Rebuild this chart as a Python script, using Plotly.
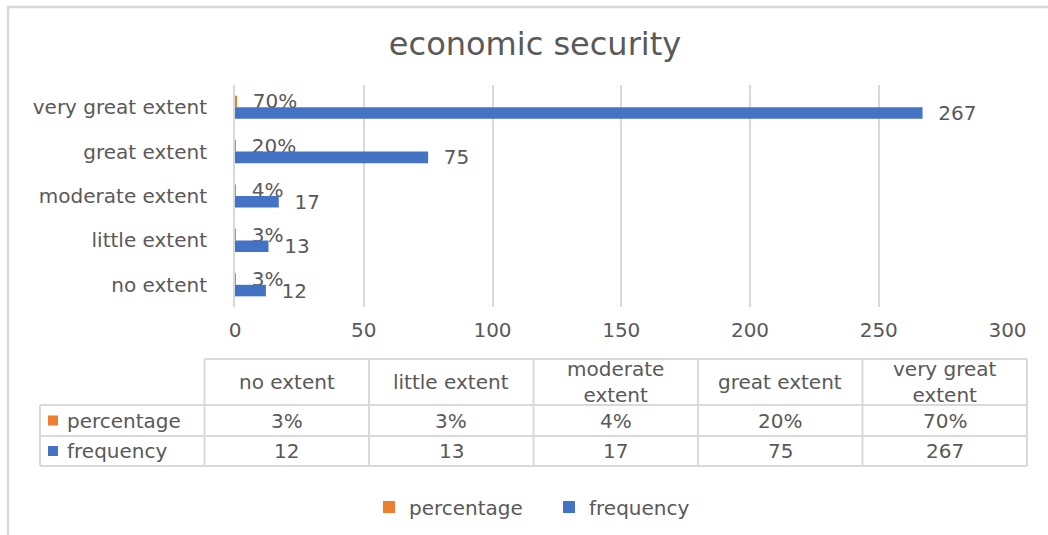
import plotly.graph_objects as go

# ---- data ----
categories = ["no extent", "little extent", "moderate extent", "great extent", "very great extent"]
table_headers = ["no extent", "little extent", "moderate<br>extent", "great extent", "very great<br>extent"]
percentage = [0.03, 0.03, 0.04, 0.20, 0.70]
frequency = [12, 13, 17, 75, 267]
series_names = ["percentage", "frequency"]
x_ticks = [0, 50, 100, 150, 200, 250, 300]

# ---- style ----
W, H = 1048, 535
FONT = "DejaVu Sans"
TXT = "#595959"
GRID = "#D9D9D9"
ORANGE = "#ED7D31"
BLUE = "#4472C4"
colors = [ORANGE, BLUE]
FS = 20


def px(x):
    return x / W


def py(y):
    return 1 - y / H


fig = go.Figure()
pad = "\u00a0\u00a0"
fig.add_trace(go.Bar(
    y=categories, x=percentage, orientation="h", name=series_names[0],
    marker=dict(color=ORANGE, line=dict(width=0)),
    texttemplate=pad + "%{x:.0%}", textposition="outside", constraintext="none",
    cliponaxis=False, textfont=dict(family=FONT, size=FS, color=TXT),
))
fig.add_trace(go.Bar(
    y=categories, x=frequency, orientation="h", name=series_names[1],
    marker=dict(color=BLUE, line=dict(width=0)),
    texttemplate=pad + "%{x}", textposition="outside", constraintext="none",
    cliponaxis=False, textfont=dict(family=FONT, size=FS, color=TXT),
))

# ---- data table (shapes + text) ----
tx0 = 40
tcol = (1027 - 40) / 6
row_y = [359, 405, 436, 466]
shapes = []
annotations = []
line_style = dict(color=GRID, width=2)
# horizontal lines
shapes.append(dict(type="line", xref="paper", yref="paper", x0=px(tx0 + tcol), x1=px(tx0 + 6 * tcol),
                   y0=py(row_y[0]), y1=py(row_y[0]), line=line_style))
for yy in row_y[1:]:
    shapes.append(dict(type="line", xref="paper", yref="paper", x0=px(tx0), x1=px(tx0 + 6 * tcol),
                       y0=py(yy), y1=py(yy), line=line_style))
# vertical lines
shapes.append(dict(type="line", xref="paper", yref="paper", x0=px(tx0), x1=px(tx0),
                   y0=py(row_y[1]), y1=py(row_y[3]), line=line_style))
for i in range(1, 7):
    xx = tx0 + i * tcol
    shapes.append(dict(type="line", xref="paper", yref="paper", x0=px(xx), x1=px(xx),
                       y0=py(row_y[0]), y1=py(row_y[3]), line=line_style))
# header texts
for i, h in enumerate(table_headers):
    cx = tx0 + (i + 1.5) * tcol
    annotations.append(dict(text=h, x=px(cx), y=py((row_y[0] + row_y[1]) / 2), xref="paper", yref="paper",
                            showarrow=False, xanchor="center", yanchor="middle",
                            font=dict(family=FONT, size=FS, color=TXT)))
# rows
row_values = [[f"{round(p * 100)}%" for p in percentage], [str(f) for f in frequency]]
for r, name in enumerate(series_names):
    cy = (row_y[r + 1] + row_y[r + 2]) / 2
    shapes.append(dict(type="rect", xref="paper", yref="paper", x0=px(48), x1=px(58),
                       y0=py(cy + 5), y1=py(cy - 5), fillcolor=colors[r], line=dict(width=0)))
    annotations.append(dict(text=name, x=px(65), y=py(cy), xref="paper", yref="paper",
                            showarrow=False, xanchor="left", yanchor="middle",
                            font=dict(family=FONT, size=FS, color=TXT)))
    for i, v in enumerate(row_values[r]):
        cx = tx0 + (i + 1.5) * tcol
        annotations.append(dict(text=v, x=px(cx), y=py(cy), xref="paper", yref="paper",
                                showarrow=False, xanchor="center", yanchor="middle",
                                font=dict(family=FONT, size=FS, color=TXT)))

# chart area border (left and top visible)
shapes.append(dict(type="rect", xref="paper", yref="paper", x0=px(8), x1=1.05, y0=-0.05, y1=py(7),
                   line=dict(color=GRID, width=2.5), fillcolor="rgba(0,0,0,0)", layer="below"))

fig.update_layout(
    width=W, height=H,
    margin=dict(l=0, r=0, t=0, b=0),
    paper_bgcolor="white", plot_bgcolor="white",
    barmode="group", bargap=0.48, bargroupgap=0,
    font=dict(family=FONT, size=FS, color=TXT),
    title=dict(text="economic security", x=px(535), y=py(44), xref="paper", yref="paper",
               xanchor="center", yanchor="middle", font=dict(family=FONT, size=32, color=TXT)),
    xaxis=dict(domain=[px(235), px(1007.5)], range=[0, 300], tickvals=x_ticks, showgrid=True,
               gridcolor=GRID, gridwidth=2, zeroline=False, showline=False,
               ticks="", ticklabelstandoff=9, automargin=False,
               tickfont=dict(family=FONT, size=FS, color=TXT)),
    yaxis=dict(domain=[py(307), py(85)], type="category", categoryorder="array",
               categoryarray=categories[::-1], autorange="reversed", showgrid=False,
               showline=True, linecolor=GRID, linewidth=2, zeroline=False,
               ticks="", ticklabelstandoff=22, automargin=False,
               tickfont=dict(family=FONT, size=FS, color=TXT)),
    legend=dict(orientation="h", x=px(549), xanchor="center", y=py(507), yanchor="middle",
                font=dict(family=FONT, size=FS, color=TXT), bgcolor="rgba(0,0,0,0)",
                traceorder="normal", entrywidth=135, entrywidthmode="pixels"),
    shapes=shapes,
    annotations=annotations,
)

fig.write_html("out.html")
